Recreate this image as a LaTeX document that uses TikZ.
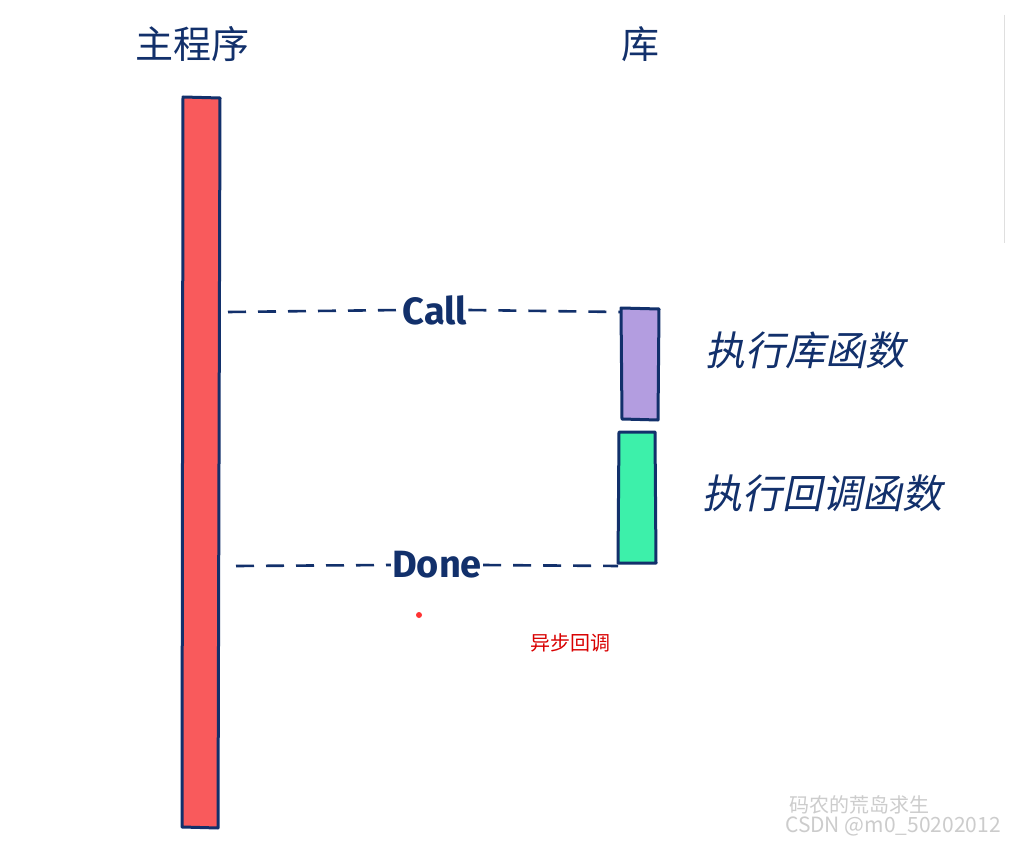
\documentclass[tikz,border=0pt]{standalone}
\usepackage{fontspec}
\setmainfont{Noto Sans CJK SC}
\newfontfamily\lat{Fira Sans}
\definecolor{navy}{HTML}{12306B}
\definecolor{barred}{HTML}{F95A5C}
\definecolor{purp}{HTML}{B39DE0}
\definecolor{grn}{HTML}{3DF0AA}
\tikzset{bar/.style={draw=navy,line width=3pt,line join=round},
 dash line/.style={draw=navy,line width=2.6pt,dash pattern=on 18pt off 12pt},
 lbl/.style={text=navy,inner sep=1pt}}
\begin{document}
\begin{tikzpicture}[x=1pt,y=-1pt]
\useasboundingbox (0,0) rectangle (1015,845);
\fill[white] (0,0) rectangle (1015,845);
\draw[gray!25,line width=1pt] (1004,15) -- (1004,243);
\node[lbl,font=\fontsize{38}{44}\selectfont] (main) at (192,44) {主程序};
\node[lbl,font=\fontsize{38}{44}\selectfont] (lib) at (640,44) {库};
\draw[bar,fill=barred] (183,97) -- (220,98) -- (218,828) -- (182,827) -- cycle;
\draw[bar,fill=purp] (621,308) -- (659,309) -- (658,420) -- (622,419) -- cycle;
\draw[bar,fill=grn] (619,432) -- (655,432) -- (656,563) -- (618,563) -- cycle;
\coordinate (c1) at (228,312); \coordinate (c2) at (620,312);
\coordinate (d1) at (236,566); \coordinate (d2) at (618,566);
\node[lbl,fill=white,font=\lat\bfseries\fontsize{38}{42}\selectfont] (call) at (435,310) {Call};
\node[lbl,fill=white,font=\lat\bfseries\fontsize{38}{42}\selectfont] (done) at (437,565) {Done};
\draw[dash line] (c1) -- (call.west); \draw[dash line] (call.east) -- (c2);
\draw[dash line] (d1) -- (done.west); \draw[dash line] (done.east) -- (d2);
\node[lbl,font=\fontsize{40}{46}\selectfont,xslant=0.2] (t1) at (809,350) {执行库函数};
\node[lbl,font=\fontsize{40}{46}\selectfont,xslant=0.2] (t2) at (826,493) {执行回调函数};
\fill[red!80] (419,615) circle (3pt);
\node[text=red!85!black,font=\fontsize{20}{22}\selectfont] (async) at (570,643) {异步回调};
\node[text=gray!40,font=\fontsize{20}{22}\selectfont] (wm1) at (859,805) {码农的荒岛求生};
\node[text=gray!40,font=\fontsize{21}{23}\selectfont] (wm2) at (893,826) {CSDN @m0\_50202012};
\end{tikzpicture}
\end{document}
